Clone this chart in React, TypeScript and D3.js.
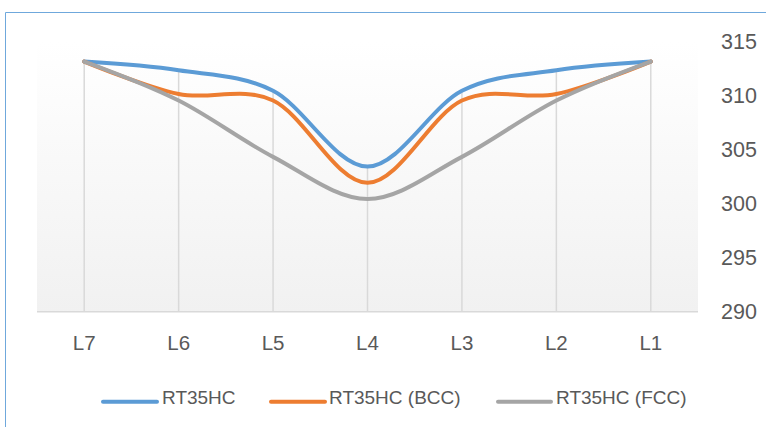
import React from "react";
import * as d3 from "d3";

// Layer positions along the x axis
const categories = ["L7", "L6", "L5", "L4", "L3", "L2", "L1"];

// Temperatures for each configuration
const seriesNames = ["RT35HC", "RT35HC (BCC)", "RT35HC (FCC)"];
const plainValues = [313.1, 312.3, 310.4, 303.4, 310.4, 312.3, 313.1];
const bccValues = [313.1, 310.1, 309.5, 301.9, 309.5, 310.1, 313.1];
const fccValues = [313.1, 309.5, 304.3, 300.4, 304.3, 309.5, 313.1];

const yTicks = [290, 295, 300, 305, 310, 315];

const colors = ["#5B9BD5", "#ED7D31", "#A5A5A5"];

const W = 766;
const H = 427;
const plot = { left: 37, right: 698, top: 41, bottom: 311.7 };
const FONT = "'Liberation Sans', Arial, sans-serif";
const TEXT = "#595959";

export default function App() {
  const allSeries = [plainValues, bccValues, fccValues];

  const x = d3
    .scaleBand<string>()
    .domain(categories)
    .range([plot.left, plot.right]);
  const cx = (c: string) => (x(c) as number) + x.bandwidth() / 2;

  const y = d3.scaleLinear().domain([290, 315]).range([plot.bottom, plot.top]);

  const line = d3
    .line<number>()
    .x((_, i) => cx(categories[i]))
    .y((v) => y(v))
    .curve(d3.curveCardinal.tension(0));

  const legendItems = [
    { x0: 103, x1: 157, tx: 162 },
    { x0: 271, x1: 325, tx: 329 },
    { x0: 498, x1: 551, tx: 556 },
  ];

  return (
    <div style={{ position: "fixed", left: 0, top: 0 }}>
      <svg width={W} height={H} style={{ display: "block", background: "#fff" }}>
        <defs>
          <linearGradient id="plotFill" x1="0" y1="0" x2="0" y2="1">
            <stop offset="0%" stopColor="#ffffff" />
            <stop offset="15%" stopColor="#fdfdfd" />
            <stop offset="100%" stopColor="#f1f1f1" />
          </linearGradient>
        </defs>

        {/* chart frame */}
        <path d={`M5.5,${H} V12.5 H${W}`} fill="none" stroke="#6FA8DC" strokeWidth={1} />

        {/* plot area */}
        <rect
          x={plot.left}
          y={plot.top}
          width={plot.right - plot.left}
          height={plot.bottom - plot.top}
          fill="url(#plotFill)"
        />

        {/* drop lines from the highest point to the axis */}
        {categories.map((c, i) => {
          const top = d3.max(allSeries, (s) => s[i]) as number;
          return (
            <line
              key={c}
              x1={cx(c)}
              x2={cx(c)}
              y1={y(top)}
              y2={plot.bottom}
              stroke="#d9d9d9"
              strokeWidth={1.5}
            />
          );
        })}

        {/* category axis */}
        <line
          x1={plot.left}
          x2={plot.right}
          y1={plot.bottom}
          y2={plot.bottom}
          stroke="#d9d9d9"
          strokeWidth={1.5}
        />

        {categories.map((c) => (
          <text
            key={c}
            x={cx(c)}
            y={350}
            textAnchor="middle"
            fontFamily={FONT}
            fontSize={20.5}
            fill={TEXT}
          >
            {c}
          </text>
        ))}

        {/* value axis on the right */}
        {yTicks.map((t) => (
          <text
            key={t}
            x={721}
            y={y(t) + 7.5}
            textAnchor="start"
            fontFamily={FONT}
            fontSize={21.5}
            fill={TEXT}
          >
            {t}
          </text>
        ))}

        {/* series */}
        {allSeries.map((s, k) => (
          <path
            key={seriesNames[k]}
            d={line(s) as string}
            fill="none"
            stroke={colors[k]}
            strokeWidth={4}
            strokeLinecap="round"
            strokeLinejoin="round"
          />
        ))}

        {/* legend */}
        {legendItems.map((it, k) => (
          <g key={seriesNames[k]}>
            <line
              x1={it.x0}
              x2={it.x1}
              y1={401.8}
              y2={401.8}
              stroke={colors[k]}
              strokeWidth={4}
              strokeLinecap="round"
            />
            <text x={it.tx} y={403.8} fontFamily={FONT} fontSize={19} fill={TEXT}>
              {seriesNames[k]}
            </text>
          </g>
        ))}
      </svg>
    </div>
  );
}
